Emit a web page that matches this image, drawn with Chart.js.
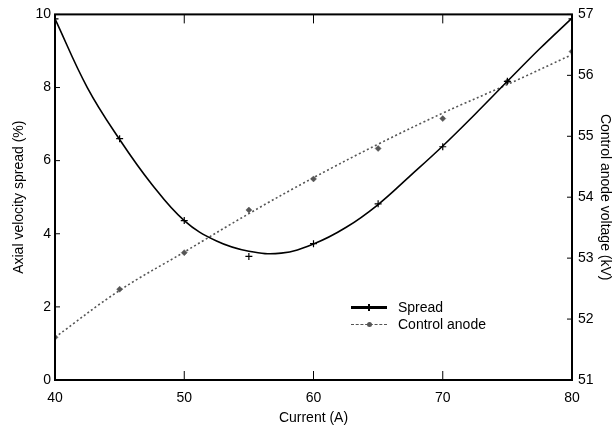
<!DOCTYPE html>
<html>
<head>
<meta charset="utf-8">
<title>Axial velocity spread</title>
<script src="https://cdn.jsdelivr.net/npm/chart.js@4.4.1/dist/chart.umd.min.js"></script>
<style>
    body { margin: 0; background: #fff; }
    #wrap { position: relative; width: 613px; height: 431px; }
    .legend-text { position: absolute; font: 14px 'Liberation Sans', Arial, sans-serif; color: #000; line-height: 16px; }
</style>
</head>
<body>
<div id="wrap">
    <canvas id="spreadChart" width="613" height="431"></canvas>

    <!-- legend inside the plot -->
    <div style="position:absolute; left:351px; top:306px; width:36px; height:3px; background:#000;"></div>
    <div style="position:absolute; left:368px; top:304px; width:2px; height:7px; background:#000;"></div>
    <div class="legend-text" style="left:398px; top:299px;">Spread</div>

    <div style="position:absolute; left:351px; top:324px; width:36px; height:0; border-top:1px dashed #555;"></div>
    <div style="position:absolute; left:367px; top:322px; width:5px; height:5px; border-radius:50%; background:#555;"></div>
    <div class="legend-text" style="left:398px; top:316px;">Control anode</div>
</div>

<script>
// measured points
const current = [40, 45, 50, 55, 60, 65, 70, 75, 80]
const spread = [9.88, 6.6, 4.36, 3.38, 3.73, 4.82, 6.38, 8.17, 9.88]
const controlAnode = [51.7, 52.49, 53.09, 53.79, 54.3, 54.8, 55.29, 55.9, 56.39]

// fitted curves
const fitCurrent = [40, 42.5, 45, 47.5, 50, 52.5, 55, 57.5, 60, 62.5, 65, 67.5, 70, 72.5, 75, 77.5, 80]
const fitSpread = [9.88, 8.0, 6.58, 5.35, 4.36, 3.8, 3.52, 3.47, 3.72, 4.17, 4.8, 5.59, 6.4, 7.27, 8.17, 9.06, 9.9]
const fitAnodeCurrent = [40, 45, 50, 55, 60, 65, 70, 75, 80]
const fitAnode = [51.7, 52.47, 53.1, 53.73, 54.32, 54.87, 55.38, 55.85, 56.34]

const leftTicks = [0, 2, 4, 6, 8, 10]
const rightTicks = [51, 52, 53, 54, 55, 56, 57]
const xTicks = [40, 50, 60, 70, 80]

const FONT = "'Liberation Sans', Arial, sans-serif"

function toPoints(xs, ys) {
    return xs.map((x, i) => ({ x: x, y: ys[i] }))
}

// frame round the plot and inward tick marks
const framePlugin = {
    id: 'frame',
    afterDraw(chart) {
        const ctx = chart.ctx
        const area = chart.chartArea
        const x = chart.scales.x
        const y = chart.scales.y
        const y2 = chart.scales.y2

        ctx.save()
        ctx.strokeStyle = '#000'
        ctx.lineWidth = 1

        ctx.beginPath()
        xTicks.forEach(v => {
            const px = x.getPixelForValue(v)
            ctx.moveTo(px, area.bottom)
            ctx.lineTo(px, area.bottom - 9)
            ctx.moveTo(px, area.top)
            ctx.lineTo(px, area.top + 9)
        })
        leftTicks.forEach(v => {
            const py = y.getPixelForValue(v)
            ctx.moveTo(area.left, py)
            ctx.lineTo(area.left + 5, py)
        })
        rightTicks.forEach(v => {
            const py = y2.getPixelForValue(v)
            ctx.moveTo(area.right, py)
            ctx.lineTo(area.right - 5, py)
        })
        ctx.stroke()

        ctx.lineWidth = 2
        ctx.strokeRect(area.left, area.top, area.right - area.left, area.bottom - area.top)
        ctx.restore()
    }
}

document.addEventListener('DOMContentLoaded', () => {
    const ctx = document.getElementById('spreadChart').getContext('2d')

    const chart = new Chart(ctx, {
        type: 'scatter',
        data: {
            datasets: [
                {
                    label: 'Spread fit',
                    data: toPoints(fitCurrent, fitSpread),
                    yAxisID: 'y',
                    showLine: true,
                    tension: 0.4,
                    borderColor: '#000',
                    borderWidth: 1.6,
                    pointRadius: 0
                },
                {
                    label: 'Control anode fit',
                    data: toPoints(fitAnodeCurrent, fitAnode),
                    yAxisID: 'y2',
                    showLine: true,
                    tension: 0.4,
                    borderColor: '#555',
                    borderWidth: 1.6,
                    borderDash: [2, 2.5],
                    pointRadius: 0
                },
                {
                    label: 'Spread',
                    data: toPoints(current, spread),
                    yAxisID: 'y',
                    showLine: false,
                    pointStyle: 'cross',
                    pointRadius: 3.5,
                    borderColor: '#000',
                    borderWidth: 1.2
                },
                {
                    label: 'Control anode',
                    data: toPoints(current, controlAnode),
                    yAxisID: 'y2',
                    showLine: false,
                    pointStyle: 'rectRot',
                    pointRadius: 3,
                    backgroundColor: '#555',
                    borderColor: '#555',
                    borderWidth: 0.5
                }
            ]
        },
        options: {
            responsive: false,
            animation: false,
            layout: {
                padding: { top: 13, left: 0, right: 0, bottom: 0 }
            },
            scales: {
                x: {
                    type: 'linear',
                    min: 40,
                    max: 80,
                    afterFit: s => { s.height = 51 },
                    afterBuildTicks: s => { s.ticks = xTicks.map(v => ({ value: v })) },
                    grid: { display: false, drawTicks: false },
                    border: { display: false },
                    ticks: { color: '#000', padding: 10, font: { family: FONT, size: 14 } },
                    title: {
                        display: true,
                        text: 'Current (A)',
                        color: '#000',
                        padding: { top: 0, bottom: 4 },
                        font: { family: FONT, size: 14 }
                    }
                },
                y: {
                    position: 'left',
                    min: 0,
                    max: 10,
                    afterFit: s => { s.width = 55 },
                    afterBuildTicks: s => { s.ticks = leftTicks.map(v => ({ value: v })) },
                    grid: { display: false, drawTicks: false },
                    border: { display: false },
                    ticks: { color: '#000', padding: 4, font: { family: FONT, size: 14 } },
                    title: {
                        display: true,
                        text: 'Axial velocity spread (%)',
                        color: '#000',
                        padding: { top: 11, bottom: 0 },
                        font: { family: FONT, size: 14 }
                    }
                },
                y2: {
                    position: 'right',
                    min: 51,
                    max: 57,
                    afterFit: s => { s.width = 41 },
                    afterBuildTicks: s => { s.ticks = rightTicks.map(v => ({ value: v })) },
                    grid: { display: false, drawTicks: false },
                    border: { display: false },
                    ticks: { color: '#000', padding: 6, font: { family: FONT, size: 14 } },
                    title: {
                        display: true,
                        text: 'Control anode voltage (kV)',
                        color: '#000',
                        padding: { top: 0, bottom: 0 },
                        font: { family: FONT, size: 14 }
                    }
                }
            },
            plugins: {
                legend: { display: false },
                tooltip: { enabled: false }
            }
        },
        plugins: [framePlugin]
    })
})
</script>
</body>
</html>
